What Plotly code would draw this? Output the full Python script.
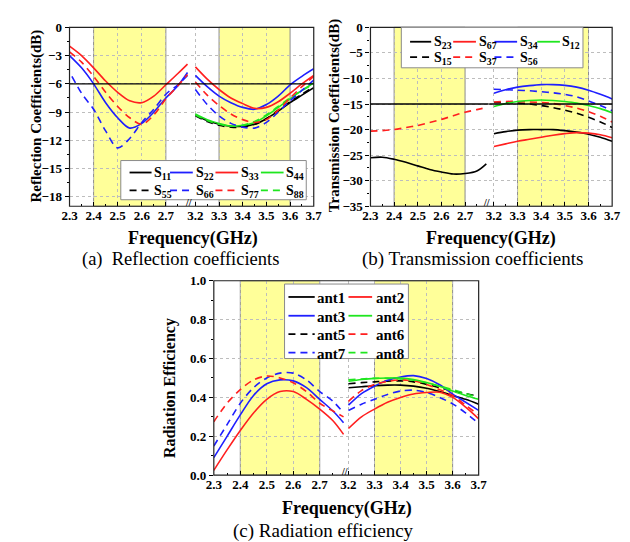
import plotly.graph_objects as go

# ---------------- data ----------------
f_left = [2.30, 2.35, 2.40, 2.45, 2.50, 2.55, 2.60, 2.65, 2.70, 2.75, 2.79]
f_left_s66 = [2.31, 2.35, 2.40, 2.45, 2.50, 2.55, 2.60, 2.65, 2.70, 2.75, 2.79]
f_right = [3.20, 3.25, 3.30, 3.35, 3.40, 3.45, 3.50, 3.55, 3.60, 3.65, 3.70]

tick_left = [2.3, 2.4, 2.5, 2.6, 2.7]
tick_right = [3.2, 3.3, 3.4, 3.5, 3.6, 3.7]
tick_a = [0, -3, -6, -9, -12, -15, -18]
tick_b = [0, -5, -10, -15, -20, -25, -30, -35]
tick_c = [0.0, 0.2, 0.4, 0.6, 0.8, 1.0]
band_low = [2.4, 2.7]
band_high = [3.3, 3.6]

# (a) reflection coefficients (dB)
s22_left = [-3.0, -4.3, -6.0, -8.0, -9.6, -10.7, -10.2, -9.0, -7.5, -6.2, -4.8]
s33_left = [-2.0, -3.0, -4.3, -5.7, -6.9, -7.8, -8.0, -7.3, -6.1, -4.9, -3.9]
s66_left = [-5.2, -7.0, -8.7, -11.0, -12.8, -11.8, -10.1, -8.7, -7.1, -6.1, -5.1]
s77_left = [-2.6, -3.7, -5.2, -6.9, -8.4, -9.6, -10.3, -9.3, -7.6, -6.2, -5.0]
s11_right = [-9.3, -9.9, -10.3, -10.5, -10.5, -10.3, -9.7, -8.9, -8.0, -7.2, -6.4]
s22_right = [-5.1, -6.3, -7.3, -8.0, -8.5, -8.7, -8.2, -7.3, -6.1, -5.2, -4.4]
s33_right = [-4.2, -5.5, -6.6, -7.5, -8.1, -8.6, -8.5, -7.9, -7.0, -6.0, -5.1]
s44_right = [-9.2, -9.8, -10.2, -10.5, -10.4, -10.1, -9.4, -8.5, -7.6, -6.7, -5.9]
s55_right = [-9.4, -10.0, -10.4, -10.6, -10.6, -10.3, -9.7, -8.8, -7.9, -7.1, -6.3]
s66_right = [-6.6, -8.2, -9.4, -10.2, -10.6, -10.7, -10.1, -9.0, -7.8, -6.7, -5.6]
s77_right = [-5.8, -7.2, -8.3, -9.2, -9.8, -10.1, -9.8, -8.8, -7.5, -6.3, -5.2]
s88_right = [-9.3, -9.9, -10.3, -10.5, -10.4, -10.0, -9.3, -8.4, -7.5, -6.7, -6.0]
ref_a = -6

# (b) transmission coefficients (dB)
s23_left = [-25.5, -25.4, -25.8, -26.4, -27.1, -27.8, -28.3, -28.7, -28.6, -28.1, -26.7]
s37_left = [-20.3, -20.2, -20.0, -19.6, -19.2, -18.6, -18.0, -17.3, -16.6, -16.1, -15.7]
s23_right = [-20.8, -20.4, -20.1, -20.0, -20.0, -20.0, -20.2, -20.5, -20.9, -21.5, -22.3]
s67_right = [-23.3, -22.8, -22.3, -21.9, -21.5, -21.1, -20.8, -20.6, -20.7, -21.0, -21.6]
s34_right = [-12.9, -12.2, -11.7, -11.4, -11.2, -11.2, -11.35, -11.7, -12.3, -13.1, -14.0]
s12_right = [-15.5, -14.9, -14.5, -14.3, -14.2, -14.3, -14.5, -14.8, -15.3, -15.9, -16.7]
s15_right = [-14.7, -14.7, -14.8, -15.0, -15.3, -15.7, -16.2, -16.8, -17.6, -18.5, -19.6]
s37_right = [-14.6, -14.5, -14.5, -14.6, -14.7, -14.9, -15.3, -15.8, -16.5, -17.4, -18.5]
s56_right = [-12.1, -12.2, -12.3, -12.4, -12.6, -12.8, -13.1, -13.6, -14.4, -15.3, -16.3]
ref_b = -15

# (c) radiation efficiency
ant2_left = [0.025, 0.13, 0.23, 0.32, 0.39, 0.43, 0.43, 0.39, 0.34, 0.28, 0.21]
ant3_left = [0.09, 0.20, 0.31, 0.41, 0.47, 0.49, 0.485, 0.45, 0.39, 0.33, 0.27]
ant6_left = [0.275, 0.37, 0.44, 0.49, 0.51, 0.50, 0.475, 0.43, 0.37, 0.33, 0.30]
ant7_left = [0.15, 0.26, 0.37, 0.45, 0.50, 0.525, 0.525, 0.49, 0.43, 0.38, 0.32]
ant1_right = [0.45, 0.455, 0.46, 0.463, 0.463, 0.458, 0.447, 0.43, 0.41, 0.39, 0.365]
ant2_right = [0.24, 0.30, 0.34, 0.375, 0.40, 0.418, 0.425, 0.427, 0.40, 0.35, 0.29]
ant3_right = [0.36, 0.42, 0.458, 0.488, 0.505, 0.512, 0.497, 0.465, 0.417, 0.375, 0.333]
ant4_right = [0.483, 0.492, 0.498, 0.50, 0.50, 0.492, 0.477, 0.457, 0.433, 0.41, 0.39]
ant5_right = [0.47, 0.476, 0.48, 0.484, 0.485, 0.48, 0.467, 0.45, 0.433, 0.42, 0.405]
ant6_right = [0.38, 0.435, 0.467, 0.482, 0.49, 0.485, 0.467, 0.44, 0.41, 0.36, 0.31]
ant7_right = [0.333, 0.365, 0.39, 0.415, 0.433, 0.437, 0.425, 0.40, 0.367, 0.32, 0.267]
ant8_right = [0.49, 0.495, 0.498, 0.498, 0.495, 0.488, 0.475, 0.458, 0.44, 0.42, 0.40]

# legend labels (text only)
legend_a_labels = [["11", "22", "33", "44"], ["55", "66", "77", "88"]]
legend_b_labels = [["23", "67", "34", "12"], ["15", "37", "56"]]
legend_c_labels = [["ant1", "ant2"], ["ant3", "ant4"], ["ant5", "ant6"], ["ant7", "ant8"]]

# ---------------- figure ----------------
W, H = 630, 542
FONT = "Liberation Serif"
BLACK, BLUE, RED, GREEN = "#000000", "#1f1fff", "#ff1f1f", "#1fe61f"
DASH = "7px,5px"


def px(x):
    return x / W


def py(y):
    return 1 - y / H


fig = go.Figure()


def add(name, color, dash, xs, ys, xa, ya):
    fig.add_trace(go.Scatter(
        x=xs, y=ys, mode="lines", name=name,
        line=dict(color=color, width=1.6, dash=dash, shape="spline", smoothing=0.9),
        xaxis=xa, yaxis=ya, showlegend=False, hoverinfo="skip"))


# panel (a)  x/x2 with y
add("S11", BLACK, "solid", f_right, s11_right, "x2", "y")
add("S55", BLACK, DASH, f_right, s55_right, "x2", "y")
add("S44", GREEN, "solid", f_right, s44_right, "x2", "y")
add("S88", GREEN, DASH, f_right, s88_right, "x2", "y")
add("S22", BLUE, "solid", f_left, s22_left, "x", "y")
add("S22", BLUE, "solid", f_right, s22_right, "x2", "y")
add("S66", BLUE, DASH, f_left_s66, s66_left, "x", "y")
add("S66", BLUE, DASH, f_right, s66_right, "x2", "y")
add("S33", RED, "solid", f_left, s33_left, "x", "y")
add("S33", RED, "solid", f_right, s33_right, "x2", "y")
add("S77", RED, DASH, f_left, s77_left, "x", "y")
add("S77", RED, DASH, f_right, s77_right, "x2", "y")

# panel (b)  x3/x4 with y2
add("S23", BLACK, "solid", f_left, s23_left, "x3", "y2")
add("S23", BLACK, "solid", f_right, s23_right, "x4", "y2")
add("S15", BLACK, DASH, f_right, s15_right, "x4", "y2")
add("S67", RED, "solid", f_right, s67_right, "x4", "y2")
add("S37", RED, DASH, f_left, s37_left, "x3", "y2")
add("S37", RED, DASH, f_right, s37_right, "x4", "y2")
add("S12", GREEN, "solid", f_right, s12_right, "x4", "y2")
add("S34", BLUE, "solid", f_right, s34_right, "x4", "y2")
add("S56", BLUE, DASH, f_right, s56_right, "x4", "y2")

# panel (c)  x5/x6 with y3
add("ant1", BLACK, "solid", f_right, ant1_right, "x6", "y3")
add("ant5", BLACK, DASH, f_right, ant5_right, "x6", "y3")
add("ant3", BLUE, "solid", f_left, ant3_left, "x5", "y3")
add("ant3", BLUE, "solid", f_right, ant3_right, "x6", "y3")
add("ant7", BLUE, DASH, f_left, ant7_left, "x5", "y3")
add("ant7", BLUE, DASH, f_right, ant7_right, "x6", "y3")
add("ant2", RED, "solid", f_left, ant2_left, "x5", "y3")
add("ant2", RED, "solid", f_right, ant2_right, "x6", "y3")
add("ant6", RED, DASH, f_left, ant6_left, "x5", "y3")
add("ant6", RED, DASH, f_right, ant6_right, "x6", "y3")
add("ant4", GREEN, "solid", f_right, ant4_right, "x6", "y3")
add("ant8", GREEN, DASH, f_right, ant8_right, "x6", "y3")

tickfont = dict(family=FONT, size=13, color="black", weight="bold")
common = dict(showgrid=True, gridcolor="#bdbdbd", griddash="dot", gridwidth=1,
              zeroline=False, ticklen=4, tickcolor="black",
              tickfont=tickfont, showline=False, fixedrange=True)


def minor(d, where):
    return dict(dtick=d, ticks=where, ticklen=2, tickcolor="black", showgrid=False)


# panel geometry in pixels
A = dict(l=(55, 178.75), r=(179.5, 306), y=(12.7, 196.7), rl=[2.3, 2.8], rr=[3.18, 3.7])
B = dict(l=(364.3, 485.8), r=(486.3, 612.7), y=(12.7, 196.7), rl=[2.3, 2.8], rr=[3.18, 3.7])
C = dict(l=(203.3, 338.0), r=(339.0, 475.5), y=(273.3, 473.3), rl=[2.3, 2.795], rr=[3.19, 3.7])


def xdom(p):
    return [px(p[0]), px(p[1])]


def ydom(p):
    return [py(p["y"][1]), py(p["y"][0])]


def xax(dom, rng, tv, anchor):
    return dict(domain=xdom(dom), range=rng, tickvals=tv, anchor=anchor,
                ticks="inside", minor=minor(0.05, "inside"), **common)


def yax(p, rng, tv, anchor, md, fmt=None):
    d = dict(domain=ydom(p), range=rng, tickvals=tv, anchor=anchor,
             ticks="outside", minor=minor(md, "outside"), **common)
    if fmt:
        d["tickformat"] = fmt
    return d


fig.update_layout(
    width=W, height=H, margin=dict(l=0, r=0, t=0, b=0),
    paper_bgcolor="white", plot_bgcolor="white", showlegend=False,
    font=dict(family=FONT, color="black"),
    xaxis=xax(A["l"], A["rl"], tick_left, "y"),
    xaxis2=xax(A["r"], A["rr"], tick_right, "y"),
    yaxis=yax(A, [-19, 0], tick_a, "x", 1.5),
    xaxis3=xax(B["l"], B["rl"], tick_left, "y2"),
    xaxis4=xax(B["r"], B["rr"], tick_right, "y2"),
    yaxis2=yax(B, [-35, 0], tick_b, "x3", 2.5),
    xaxis5=xax(C["l"], C["rl"], tick_left, "y3"),
    xaxis6=xax(C["r"], C["rr"], tick_right, "y3"),
    yaxis3=yax(C, [0, 1.0], tick_c, "x5", 0.1, ".1f"),
)

shapes = []
for p, xl, xr, ya in [(A, "x", "x2", "y"), (B, "x3", "x4", "y2"), (C, "x5", "x6", "y3")]:
    shapes.append(dict(type="rect", xref=xl, yref=ya + " domain", x0=band_low[0], x1=band_low[1],
                       y0=0, y1=1, fillcolor="#ffff99", line=dict(color="#8c8c8c", width=1), layer="below"))
    shapes.append(dict(type="rect", xref=xr, yref=ya + " domain", x0=band_high[0], x1=band_high[1],
                       y0=0, y1=1, fillcolor="#ffff99", line=dict(color="#8c8c8c", width=1), layer="below"))
    shapes.append(dict(type="rect", xref="paper", yref="paper",
                       x0=px(p["l"][0]), x1=px(p["r"][1]), y0=py(p["y"][1]), y1=py(p["y"][0]),
                       line=dict(color="#222222", width=1.2), layer="above"))
for xa, ya, val in [("x", "y", ref_a), ("x2", "y", ref_a), ("x3", "y2", ref_b), ("x4", "y2", ref_b)]:
    shapes.append(dict(type="line", xref=xa + " domain", yref=ya, x0=0, x1=1, y0=val, y1=val,
                       line=dict(color="black", width=1.3), layer="above"))

ann = []


def text(x, y, s, size, bold=True, angle=0, xanchor="center"):
    ann.append(dict(x=px(x), y=py(y), xref="paper", yref="paper", text=s, showarrow=False,
                    textangle=angle, xanchor=xanchor, yanchor="middle", borderpad=0,
                    font=dict(family=FONT, size=size, color="black",
                              weight="bold" if bold else "normal")))


# ---- hand-placed legend boxes (layout geometry) ----
def legend_box(box, rows_y, line_x, text_x, labels, styles, fmt, size):
    shapes.append(dict(type="rect", xref="paper", yref="paper",
                       x0=px(box[0]), x1=px(box[2]), y0=py(box[3]), y1=py(box[1]),
                       fillcolor="white", line=dict(color="#8a8a8a", width=1), layer="above"))
    for r, row in enumerate(labels):
        for c, lab in enumerate(row):
            color, dash = styles[r][c]
            shapes.append(dict(type="line", xref="paper", yref="paper",
                               x0=px(line_x[c][0]), x1=px(line_x[c][1]),
                               y0=py(rows_y[r]), y1=py(rows_y[r]),
                               line=dict(color=color, width=1.8, dash=dash), layer="above"))
            text(text_x[c], rows_y[r] + 1, fmt(lab), size, xanchor="left")


def s_fmt(n):
    return "S<sub>%s</sub>" % n


legend_box((107.7, 149.7, 298.3, 190.0), [162.0, 180.3],
           [(116.7, 139.3), (158.3, 181.7), (205.0, 228.3), (251.7, 275.0)],
           [140.5, 183.5, 230.5, 276.0], legend_a_labels,
           [[(BLACK, "solid"), (BLUE, "solid"), (RED, "solid"), (GREEN, "solid")],
            [(BLACK, DASH), (BLUE, DASH), (RED, DASH), (GREEN, DASH)]], s_fmt, 14)
legend_box((396.0, 12.7, 582.7, 54.3), [27.5, 43.3],
           [(405.0, 426.7), (449.3, 472.7), (491.7, 515.0), (535.7, 559.0)],
           [428.5, 475.0, 517.0, 560.5], legend_b_labels,
           [[(BLACK, "solid"), (RED, "solid"), (BLUE, "solid"), (GREEN, "solid")],
            [(BLACK, DASH), (RED, DASH), (BLUE, DASH)]], s_fmt, 14)
legend_box((276.0, 276.7, 403.3, 353.3), [290.0, 309.3, 328.3, 347.3],
           [(280.0, 307.0), (341.7, 366.0)], [308.5, 368.5], legend_c_labels,
           [[(BLACK, "solid"), (RED, "solid")], [(BLUE, "solid"), (GREEN, "solid")],
            [(BLACK, DASH), (RED, DASH)], [(BLUE, DASH), (GREEN, DASH)]], lambda s: s, 15)

# break marks (sit on the bottom axis line, above the tick labels)
text((A["l"][1] + A["r"][0]) / 2 - 2, A["y"][1] - 3.5, "//", 10)
text((B["l"][1] + B["r"][0]) / 2 - 2, B["y"][1] - 3.5, "//", 10)
text((C["l"][1] + C["r"][0]) / 2 - 1, C["y"][1] - 3.5, "//", 10)
# axis titles
text(182, 230, "Frequency(GHz)", 18)
text(488, 230, "Frequency(GHz)", 18)
text(340, 508, "Frequency(GHz)", 18)
text(21, 104, "Reflection Coefficients(dB)", 15, angle=-90)
text(327, 104, "Transmission Coefficients(dB)", 15, angle=-90)
text(159, 384, "Radiation Efficiency", 16, angle=-90)
# captions
text(169, 251, "(a)  Reflection coefficients", 18.5, bold=False)
text(469, 251, "(b) Transmission coefficients", 19, bold=False)
text(316, 531, "(c) Radiation efficiency", 19, bold=False)

fig.update_layout(shapes=shapes, annotations=ann)
fig.write_html("out.html")
